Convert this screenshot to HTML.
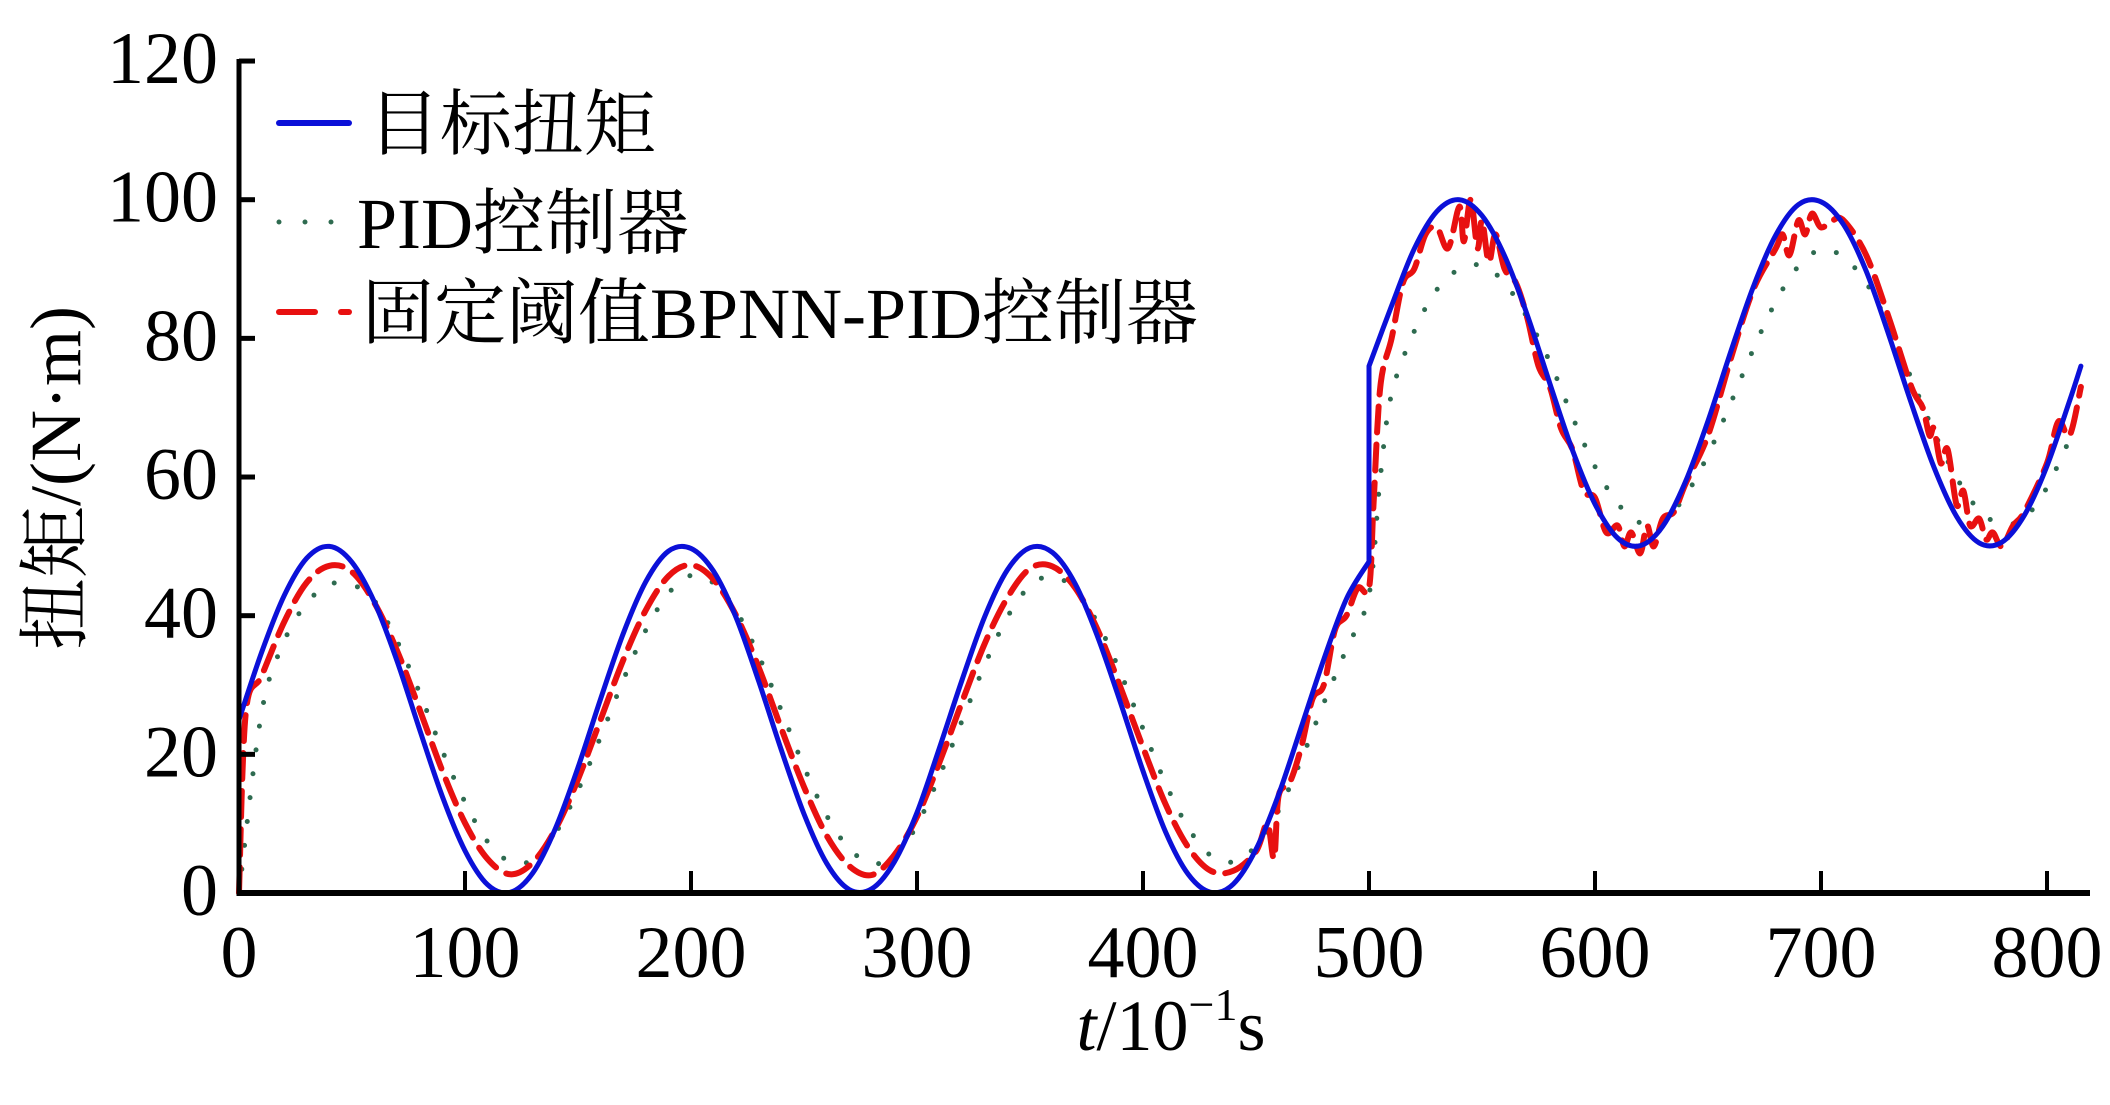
<!DOCTYPE html>
<html><head><meta charset="utf-8">
<style>
html,body{margin:0;padding:0;background:#fff;}
svg{display:block;}
text{font-family:"Liberation Serif","Noto Serif CJK SC","Noto Sans CJK SC",serif;fill:#000;}
</style></head>
<body>
<svg id="chart" width="2110" height="1105" viewBox="0 0 2110 1105" xmlns="http://www.w3.org/2000/svg">
  <g id="plot"></g>
  <g id="axes"></g>
  <text transform="translate(80,478) rotate(-90)" text-anchor="middle" font-size="72">扭矩/(N·m)</text>
  <text x="1171" y="1050" text-anchor="middle" font-size="72"><tspan font-style="italic">t</tspan>/10<tspan font-size="46" dy="-30">−1</tspan><tspan dy="30">s</tspan></text>
  <g>
    <g>
      <line x1="279" y1="123" x2="349" y2="123" stroke="#0b10d8" stroke-width="6" stroke-linecap="round"/>
      <text x="368" y="149" font-size="72">目标扭矩</text>
    </g>
    <g>
      <line x1="279" y1="222" x2="335" y2="222" stroke="#2e6b50" stroke-width="5" stroke-linecap="round" stroke-dasharray="0 26"/>
      <text x="357" y="248" font-size="72">PID控制器</text>
    </g>
    <g>
      <line x1="279" y1="312" x2="315" y2="312" stroke="#e81010" stroke-width="6" stroke-linecap="round"/>
      <line x1="341" y1="312" x2="349" y2="312" stroke="#e81010" stroke-width="6" stroke-linecap="round"/>
      <text x="362" y="338" font-size="72">固定阈值BPNN-PID控制器</text>
    </g>
  </g>
</svg>
<script>
const xTicks = [0,100,200,300,400,500,600,700,800];
const yTicks = [0,20,40,60,80,100,120];
const targetT = [0,10,20,30,40,50,60,70,80,90,100,110,120,130,140,150,160,170,180,190,200,210,220,230,240,250,260,270,280,290,300,310,320,330,340,350,360,370,380,390,400,410,420,430,440,450,460,470,480,490,500,500,510,520,530,540,550,560,570,580,590,600,610,620,630,640,650,660,670,680,690,700,710,720,730,740,750,760,770,780,790,800,810,815];
const targetV = [25,34.7,42.9,48.3,50,47.7,41.9,33.4,23.5,13.9,6.1,1.2,0.1,2.9,9.3,18.1,28,37.4,44.9,49.3,49.7,46.4,39.7,30.5,20.6,11.4,4.3,0.5,0.6,4.5,11.6,21,30.8,39.9,46.6,49.8,49.1,44.6,36.9,27.5,17.6,8.8,2.7,0.1,1.3,6.3,14.2,23.9,33.7,42.4,47.8,76,84.7,92.9,98.3,100,97.7,91.9,83.4,73.5,63.9,56.1,51.2,50.1,52.9,59.3,68.1,78,87.4,94.9,99.3,99.7,96.4,89.7,80.5,70.6,61.4,54.3,50.5,50.6,54.5,61.6,71,76];
const pidT = [0,10,20,30,40,50,60,70,80,90,100,110,120,130,140,150,160,170,180,190,200,210,220,230,240,250,260,270,280,290,300,310,320,330,340,350,360,370,380,390,400,410,420,430,440,450,460,470,480,490,500,505,510,520,530,540,550,560,570,580,590,600,610,620,630,640,650,660,670,680,690,700,710,720,730,740,750,760,770,780,790,800,810,815];
const pidV = [0,26,36.3,41.8,44.5,44.5,42.1,36.3,28.8,20.5,13.1,7.4,4.5,4.8,8.6,14.8,22.5,30.7,37.9,43.2,45.8,44.7,40.7,34.2,26.3,18.2,11.2,6.4,4.3,5.2,9.8,16.9,24.9,32.9,39.8,44.3,45.7,43.7,38.9,31.8,23.7,15.8,9.4,5.4,4.5,6.8,11.9,19.2,27.4,35.2,43,60,72,81,87,90,90.5,88,83,76.6,68.7,61.5,56.2,53.4,53.6,57.3,63.2,70.6,78.4,85.3,90.4,92.8,91.7,88,81.8,74.2,66.5,59.9,55.2,53.2,54.1,58.5,65.3,67];
const bpT = [0,3,10,20,30,40,50,60,70,80,90,100,110,120,130,140,150,160,170,180,190,200,210,220,230,240,250,260,270,280,290,300,310,320,330,340,350,360,370,380,390,400,410,420,430,440,450,455,458,460,465,470,475,480,485,490,495,500,502,505,510,515,520,525,530,535,540,542,545,548,550,553,556,560,565,570,575,580,585,590,595,600,605,610,613,616,620,623,626,630,635,640,650,660,670,680,683,686,690,693,696,700,705,710,720,730,740,745,748,750,753,756,760,763,766,770,773,776,780,785,790,800,805,810,815];
const bpV = [0,26,31.3,39.1,44.8,47.2,46.3,41.8,34.9,26.4,17.6,10.1,4.9,2.7,4.4,9.2,16.4,25,33.6,40.8,45.7,47.3,45.2,40,32.5,23.7,15.3,8.3,3.9,2.6,5.5,11,18.9,27.6,36,42.6,46.8,47.1,44,37.9,29.7,21,12.8,6.6,3.2,3.2,6,10,5,14,16,21,28,30,38,40,44,44,56,73,80,88,90,95,96,93,99,94,100,93,97,91,95,90,88,83,76,73,67,64,58,57,52,53,50,52,49,53,50,54,55,59,66,77,87,93,95,92,97,95,98,96,97,97,92,83,73,70,66,67,62,64,56,58,53,54,51,52,50,53,55,62,68,66,73];

const NS = 'http://www.w3.org/2000/svg';
const X0 = 239, XS = 2.26, Y0 = 893, YS = 6.933;
function xs(t){ return X0 + XS * t; }
function ys(v){ return Y0 - YS * v; }
function pathFrom(ts, vs, smooth){
  const P = ts.map((t,i)=>[xs(t), ys(vs[i])]);
  if (!smooth) return P.map((p,i)=>(i?'L':'M')+p[0].toFixed(1)+','+p[1].toFixed(1)).join(' ');
  let d = 'M'+P[0][0].toFixed(1)+','+P[0][1].toFixed(1);
  for (let i=0;i<P.length-1;i++){
    const p0=P[Math.max(0,i-1)], p1=P[i], p2=P[i+1], p3=P[Math.min(P.length-1,i+2)];
    if (Math.abs(p2[0]-p1[0])<0.5){ d+=' L'+p2[0].toFixed(1)+','+p2[1].toFixed(1); continue; }
    const jump0 = Math.abs(p1[0]-p0[0])<0.5, jump3 = Math.abs(p3[0]-p2[0])<0.5;
    const q0 = jump0 ? p1 : p0, q3 = jump3 ? p2 : p3;
    const c1=[p1[0]+(p2[0]-q0[0])/6, p1[1]+(p2[1]-q0[1])/6];
    const c2=[p2[0]-(q3[0]-p1[0])/6, p2[1]-(q3[1]-p1[1])/6];
    d+=' C'+c1[0].toFixed(1)+','+c1[1].toFixed(1)+' '+c2[0].toFixed(1)+','+c2[1].toFixed(1)+' '+p2[0].toFixed(1)+','+p2[1].toFixed(1);
  }
  return d;
}
const plot = document.getElementById('plot');
const axes = document.getElementById('axes');

function addSeries(ts, vs, name, stroke, width, dash, smooth){
  const p = document.createElementNS(NS,'path');
  p.setAttribute('d', pathFrom(ts, vs, smooth));
  p.setAttribute('fill','none');
  p.setAttribute('stroke', stroke);
  p.setAttribute('stroke-width', width);
  p.setAttribute('stroke-linejoin','round');
  p.setAttribute('stroke-linecap','round');
  if (dash) p.setAttribute('stroke-dasharray', dash);
  
  
  plot.appendChild(p);
}
addSeries(pidT, pidV, 'pid-series', '#2e6b50', 5, '0 24', true);
addSeries(bpT, bpV, 'bpnn-pid-series', '#e81010', 6, '26 12', true);
addSeries(targetT, targetV, 'target-torque-series', '#0b10d8', 5, null, true);

const xl = document.createElementNS(NS,'line');
xl.setAttribute('x1', X0); xl.setAttribute('x2', 2090);
xl.setAttribute('y1', Y0); xl.setAttribute('y2', Y0);
xl.setAttribute('stroke','#000'); xl.setAttribute('stroke-width','6');


axes.appendChild(xl);
const yl = document.createElementNS(NS,'line');
yl.setAttribute('x1', X0); yl.setAttribute('x2', X0);
yl.setAttribute('y1', ys(120)-2); yl.setAttribute('y2', Y0+3);
yl.setAttribute('stroke','#000'); yl.setAttribute('stroke-width','5');


axes.appendChild(yl);

xTicks.forEach(t=>{
  const l = document.createElementNS(NS,'line');
  l.setAttribute('x1', xs(t)); l.setAttribute('x2', xs(t));
  l.setAttribute('y1', Y0); l.setAttribute('y2', Y0-22);
  l.setAttribute('stroke','#000'); l.setAttribute('stroke-width','4');
  
  
  axes.appendChild(l);
  const tx = document.createElementNS(NS,'text');
  tx.setAttribute('x', xs(t)); tx.setAttribute('y', 977);
  tx.setAttribute('text-anchor','middle'); tx.setAttribute('font-size','74');
  tx.textContent = t;
  
  
  axes.appendChild(tx);
});
yTicks.forEach(v=>{
  const l = document.createElementNS(NS,'line');
  l.setAttribute('x1', X0); l.setAttribute('x2', X0+16);
  l.setAttribute('y1', ys(v)); l.setAttribute('y2', ys(v));
  l.setAttribute('stroke','#000'); l.setAttribute('stroke-width','5');
  
  
  axes.appendChild(l);
  const tx = document.createElementNS(NS,'text');
  tx.setAttribute('x', 218); tx.setAttribute('y', ys(v)+22);
  tx.setAttribute('text-anchor','end'); tx.setAttribute('font-size','74');
  tx.textContent = v;
  
  
  axes.appendChild(tx);
});
</script>
</body></html>
